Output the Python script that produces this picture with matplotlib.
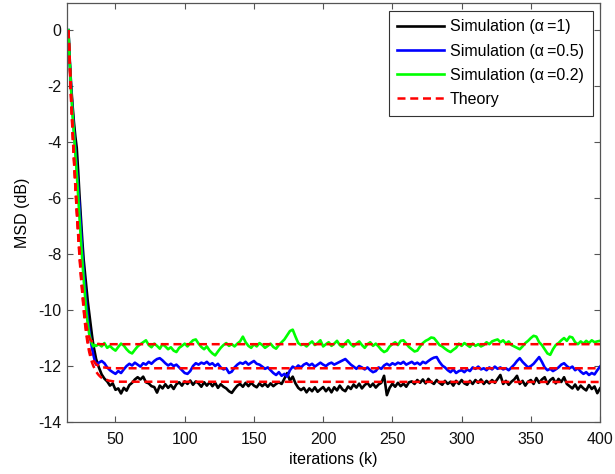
import numpy as np
import matplotlib
matplotlib.use("Agg")
import matplotlib.pyplot as plt

# ---------------- data ----------------
# simulation: transient part (k = 16..35 step 1) + steady part (k = 36..400 step 2)
k_trans = list(range(16, 36))
k_steady = list(range(36, 401, 2))

sim_a1_trans = [0, -1.1, -2.0, -2.7, -3.3, -3.8, -4.2, -5.0, -5.9, -6.7, -7.5, -8.2, -8.7,
                -9.2, -9.7, -10.1, -10.5, -10.9, -11.25, -11.5]
sim_a05_trans = [0, -1.2, -2.1, -2.9, -3.6, -4.2, -4.9, -5.6, -6.3, -7.1, -7.9, -8.6, -9.2,
                 -9.8, -10.3, -10.7, -11.05, -11.35, -11.6, -11.8]
sim_a02_trans = [0, -1.2, -2.2, -3.0, -3.7, -4.4, -5.1, -5.9, -6.7, -7.5, -8.2, -8.9, -9.5,
                 -10.1, -10.5, -10.85, -11.05, -11.2, -11.3, -11.25]

sim_a02_steady = [
    -11.28, -11.22, -11.30, -11.18, -11.35, -11.28, -11.38, -11.45, -11.32, -11.20,
    -11.27, -11.40, -11.50, -11.55, -11.42, -11.30, -11.22, -11.15, -11.08, -11.25,
    -11.33, -11.20, -11.28, -11.38, -11.22, -11.30, -11.40, -11.33, -11.45, -11.50,
    -11.35, -11.28, -11.20, -11.30, -11.18, -11.08, -11.05, -11.20, -11.32, -11.40,
    -11.30, -11.45, -11.55, -11.62, -11.48, -11.35, -11.25, -11.18, -11.28, -11.22,
    -11.30, -11.20, -11.12, -10.95, -11.15, -11.28, -11.35, -11.22, -11.30, -11.18,
    -11.25, -11.35, -11.28, -11.20, -11.32, -11.38, -11.25, -11.15, -11.05, -10.90,
    -10.75, -10.70, -10.95, -11.18, -11.25, -11.22, -11.30, -11.20, -11.12, -11.25,
    -11.18, -11.08, -11.30, -11.22, -11.15, -11.28, -11.20, -11.10, -11.25, -11.32,
    -11.18, -11.08, -11.22, -11.30, -11.20, -11.12, -11.25, -11.35, -11.22, -11.15,
    -11.28, -11.20, -11.30, -11.42, -11.50, -11.45, -11.30, -11.22, -11.15, -11.25,
    -11.10, -11.08, -11.20, -11.32, -11.40, -11.48, -11.45, -11.30, -11.18, -11.10,
    -11.05, -10.98, -11.00, -11.12, -11.25, -11.30, -11.38, -11.45, -11.50, -11.42,
    -11.35, -11.20, -11.28, -11.18, -11.25, -11.32, -11.20, -11.28, -11.22, -11.30,
    -11.25, -11.15, -11.22, -11.12, -11.08, -11.05, -11.15, -11.08, -11.20, -11.12,
    -11.25, -11.30, -11.35, -11.40, -11.30, -11.18, -11.10, -11.00, -10.92, -10.95,
    -11.15, -11.25, -11.40, -11.55, -11.60, -11.40, -11.25, -11.18, -11.08, -11.00,
    -11.10, -10.95, -10.98, -11.15, -11.22, -11.12, -11.20, -11.10, -11.18, -11.08,
    -11.15, -11.12, -11.10]

sim_a05_steady = [
    -11.95, -11.88, -11.82, -11.90, -12.05, -12.15, -12.22, -12.28, -12.18, -12.25,
    -12.12, -12.00, -11.92, -11.98, -11.88, -11.95, -12.02, -11.90, -11.95, -11.85,
    -11.92, -11.82, -11.75, -11.72, -11.80, -11.90, -11.98, -11.92, -12.00, -11.95,
    -12.05, -12.15, -12.25, -12.28, -12.18, -12.00, -11.90, -11.95, -11.88, -11.92,
    -11.85, -11.95, -11.90, -12.00, -11.92, -12.05, -12.12, -12.08, -12.25, -12.20,
    -12.05, -11.95, -11.88, -11.92, -11.85, -11.95, -11.88, -11.82, -11.92, -11.95,
    -12.02, -12.10, -12.05, -12.15, -12.25, -12.32, -12.22, -12.35, -12.28, -12.38,
    -12.15, -12.02, -12.08, -11.98, -12.05, -11.95, -11.90, -11.98, -11.92, -12.02,
    -11.95, -11.88, -11.95, -12.00, -11.92, -11.88, -11.95, -11.90, -11.85, -11.80,
    -11.75, -11.85, -11.95, -12.02, -12.10, -12.00, -12.05, -12.12, -12.05, -12.15,
    -12.22, -12.18, -12.05, -12.10, -11.98, -11.92, -11.98, -11.90, -11.95, -11.88,
    -11.92, -11.85, -11.95, -11.90, -11.85, -11.93, -11.88, -11.95, -11.85, -11.90,
    -11.82, -11.75, -11.70, -11.68, -11.85, -11.98, -12.05, -12.15, -12.22, -12.12,
    -12.25, -12.18, -12.15, -12.22, -12.12, -12.18, -12.05, -12.10, -12.02, -12.12,
    -12.08, -12.15, -12.05, -12.12, -12.02, -12.10, -12.05, -12.12, -12.08, -12.15,
    -12.05, -11.95, -11.82, -11.72, -11.85, -11.95, -12.05, -12.00, -11.92, -11.80,
    -11.68, -11.85, -12.05, -12.15, -12.10, -12.18, -12.12, -12.05, -11.95, -11.90,
    -12.00, -12.08, -12.02, -12.15, -12.08, -12.20, -12.28, -12.22, -12.32, -12.25,
    -12.30, -12.15, -12.02]

sim_a1_steady = [
    -11.75, -12.05, -12.30, -12.45, -12.55, -12.70, -12.62, -12.85, -12.80, -12.98,
    -12.78, -12.88, -12.68, -12.60, -12.48, -12.40, -12.48, -12.38, -12.58, -12.62,
    -12.72, -12.75, -12.95, -12.70, -12.80, -12.65, -12.78, -12.68, -12.82, -12.65,
    -12.58, -12.70, -12.55, -12.64, -12.52, -12.67, -12.55, -12.62, -12.74, -12.58,
    -12.70, -12.58, -12.72, -12.60, -12.78, -12.65, -12.74, -12.80, -12.90, -12.96,
    -12.82, -12.70, -12.64, -12.74, -12.60, -12.72, -12.60, -12.70, -12.76, -12.62,
    -12.72, -12.63, -12.74, -12.62, -12.72, -12.64, -12.58, -12.64, -12.45, -12.25,
    -12.52, -12.38, -12.62, -12.78, -12.86, -12.78, -12.94, -12.80, -12.90, -12.76,
    -12.92, -12.83, -12.75, -12.90, -12.78, -12.94, -12.76, -12.87, -12.70, -12.84,
    -12.90, -12.73, -12.82, -12.66, -12.77, -12.63, -12.80, -12.68, -12.60, -12.74,
    -12.63, -12.77, -12.66, -12.60, -12.35, -13.04, -12.78, -12.63, -12.74, -12.60,
    -12.72, -12.63, -12.74, -12.58, -12.55, -12.64, -12.50, -12.60, -12.48, -12.62,
    -12.46, -12.57, -12.64, -12.50, -12.60, -12.67, -12.53, -12.64, -12.56, -12.70,
    -12.53, -12.64, -12.50, -12.62, -12.67, -12.53, -12.64, -12.50, -12.60, -12.48,
    -12.64, -12.53, -12.62, -12.50, -12.60, -12.46, -12.32, -12.64, -12.53, -12.67,
    -12.56, -12.48, -12.35, -12.64, -12.53, -12.70, -12.56, -12.50, -12.64, -12.43,
    -12.60, -12.48, -12.40, -12.64, -12.50, -12.43, -12.62, -12.46, -12.57, -12.40,
    -12.64, -12.72, -12.80, -12.66, -12.84, -12.70, -12.80, -12.87, -12.68, -12.82,
    -12.73, -12.97, -12.80]

# theory curves
k_theory = list(range(16, 41)) + [45, 50, 400]
theory_a1 = [0, -1.3, -2.6, -3.7, -4.7, -5.6, -6.5, -7.3, -8.1, -8.8, -9.4, -10.0, -10.5,
             -10.9, -11.25, -11.5, -11.7, -11.87, -12.0, -12.1, -12.2, -12.27, -12.33,
             -12.38, -12.42, -12.52, -12.56, -12.57]
theory_a05 = [0, -1.25, -2.5, -3.6, -4.6, -5.5, -6.4, -7.2, -8.0, -8.7, -9.3, -9.9, -10.4,
              -10.8, -11.1, -11.35, -11.55, -11.68, -11.8, -11.87, -11.93, -11.97, -12.0,
              -12.02, -12.04, -12.07, -12.08, -12.08]
theory_a02 = [0, -1.2, -2.4, -3.5, -4.5, -5.4, -6.3, -7.1, -7.9, -8.6, -9.2, -9.75, -10.2,
              -10.55, -10.8, -10.97, -11.07, -11.12, -11.16, -11.18, -11.2, -11.21, -11.21,
              -11.22, -11.22, -11.22, -11.22, -11.22]

labels = ["Simulation (α\u2009=1)", "Simulation (α\u2009=0.5)", "Simulation (α\u2009=0.2)", "Theory"]
x_ticks = [50, 100, 150, 200, 250, 300, 350, 400]
y_ticks = [0, -2, -4, -6, -8, -10, -12, -14]

# ---------------- plot ----------------
plt.rcParams['font.family'] = ['Liberation Sans', 'DejaVu Sans']

fig = plt.figure(figsize=(6.15, 4.74), dpi=100)
ax = fig.add_axes([0.109, 0.1097, 0.8667, 0.8833])

lw_sim = 1.9
k_sim = k_trans + k_steady
l1, = ax.plot(k_sim, sim_a1_trans + sim_a1_steady, color='black', lw=lw_sim)
l2, = ax.plot(k_sim, sim_a05_trans + sim_a05_steady, color=(0, 0, 1), lw=lw_sim)
l3, = ax.plot(k_sim, sim_a02_trans + sim_a02_steady, color=(0, 1, 0), lw=lw_sim)
dash = (0, (3.2, 1.9))
l4, = ax.plot(k_theory, theory_a1, color=(1, 0, 0), lw=1.8, linestyle=dash)
ax.plot(k_theory, theory_a05, color=(1, 0, 0), lw=1.8, linestyle=dash)
ax.plot(k_theory, theory_a02, color=(1, 0, 0), lw=1.8, linestyle=dash)

ax.set_xlim(15, 400)
ax.set_ylim(-14, 0.96)
ax.set_xticks(x_ticks)
ax.set_yticks(y_ticks)
ax.set_xticklabels([str(v) for v in x_ticks])
ax.set_yticklabels([str(v) for v in y_ticks])

spine_col = '#555555'
for s in ax.spines.values():
    s.set_color(spine_col)
    s.set_linewidth(0.9)
ax.tick_params(axis='both', which='both', direction='in', length=4, width=0.8,
               color=spine_col, top=True, right=True, labelsize=11.5, labelcolor='#111111')
ax.tick_params(axis='x', pad=7)
ax.tick_params(axis='y', pad=4)

ax.set_xlabel("iterations (k)", fontsize=11.5, labelpad=4)
ax.set_ylabel("MSD (dB)", fontsize=11.5, labelpad=6)

leg = ax.legend([l1, l2, l3, l4], labels, loc='upper right', fontsize=11.5,
                handlelength=2.9, handletextpad=0.4, borderaxespad=0.45,
                labelspacing=0.58, fancybox=False, framealpha=1, borderpad=0.55)
leg.get_frame().set_edgecolor('#333333')
leg.get_frame().set_linewidth(0.8)

fig.savefig("out.png", dpi=100)
